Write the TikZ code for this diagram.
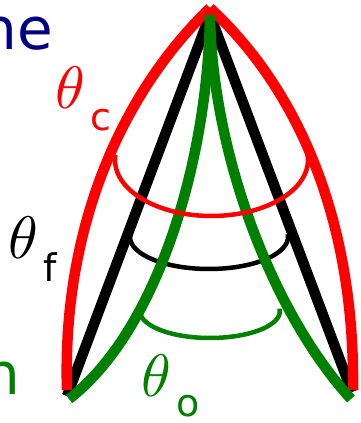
\documentclass[tikz,border=0pt]{standalone}
\usepackage{fontspec}
\DeclareFontShape{OML}{cmm}{m}{it}{<->cmmi10}{}
\newfontfamily\djsans{DejaVu Sans}
\definecolor{cred}{RGB}{255,0,0}
\definecolor{cgreen}{RGB}{0,128,0}
\definecolor{cnavy}{RGB}{0,0,128}
\begin{document}
\begin{tikzpicture}[x=1pt,y=1pt,
  thickline/.style={line width=10.5pt},
  arcline/.style={line width=4.5pt},
  anglelbl/.style={inner sep=0pt, anchor=base west, font=\fontsize{60}{60}\selectfont},
  wordlbl/.style={inner sep=0pt, anchor=base east, font=\djsans\fontsize{58}{60}\selectfont}]
\useasboundingbox (0,0) rectangle (361,423);
% key points (y measured upward)
\coordinate (redtop) at (210,415);
\coordinate (redL) at (67,33);
\coordinate (redR) at (353,33);
\coordinate (blktop) at (210,408);
\coordinate (blkL) at (67,27);
\coordinate (blkR) at (352,31);
\coordinate (grntop) at (210,408);
\coordinate (grnL) at (69,24);
\coordinate (grnR) at (351,24);
\coordinate (cc) at (211.5,263);
\coordinate (fc) at (209,186);
\coordinate (oc) at (210,112);
% black straight sides
\draw[black, thickline] (blktop) -- (blkL);
\draw[black, thickline] (blktop) -- (blkR);
% red convex sides
\draw[cred, thickline] (redtop) .. controls (120,328) and (62,193) .. (redL);
\draw[cred, thickline] (redtop) .. controls (304,328) and (355,193) .. (redR);
% arcs
\draw[black, arcline] ([shift={(175:79pt and 32pt)}]fc) arc[start angle=175, end angle=365, x radius=79pt, y radius=32pt];
\draw[cgreen, arcline] ([shift={(175:70pt and 27pt)}]oc) arc[start angle=175, end angle=365, x radius=70pt, y radius=27pt];
% green concave sides
\draw[cgreen, thickline] (grntop) .. controls (208,263) and (158,93) .. (grnL);
\draw[cgreen, thickline] (grntop) .. controls (212,273) and (270,113) .. (grnR);
\draw[cred, arcline] ([shift={(175:96.5pt and 56pt)}]cc) arc[start angle=175, end angle=365, x radius=96.5pt, y radius=56pt];
% labels
\node[wordlbl, text=cnavy] (ne) at (53,373.5) {ne};
\node[wordlbl, text=cgreen] (n) at (20,28) {n};
\node[anglelbl, text=cred] (thc) at (55,314) {$\theta$\hspace{5pt}\raisebox{-22pt}{\djsans\fontsize{38}{40}\selectfont c}};
\node[anglelbl, text=black] (thf) at (8,164) {$\theta$\hspace{5.5pt}\raisebox{-23pt}{\djsans\fontsize{38}{40}\selectfont f}};
\node[anglelbl, text=cgreen] (tho) at (141,26) {$\theta$\hspace{5pt}\raisebox{-20pt}{\djsans\fontsize{38}{40}\selectfont o}};
\end{tikzpicture}
\end{document}
